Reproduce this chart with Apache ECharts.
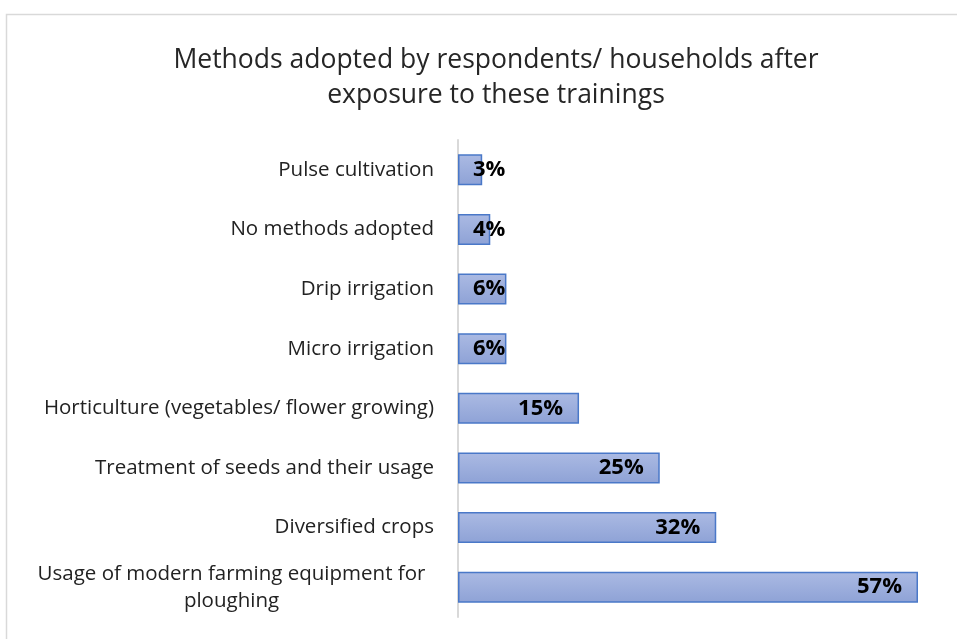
<!DOCTYPE html>
<html>
<head>
<meta charset="utf-8">
<script src="https://cdn.jsdelivr.net/npm/echarts@6/dist/echarts.min.js"></script>
<style>
  html, body { margin: 0; padding: 0; background: #fff; }
  #chart { width: 957px; height: 639px; }
</style>
</head>
<body>
<div id="chart"></div>
<script>
// Share of respondents/households adopting each method (top to bottom)
const categories = [
  'Pulse cultivation',
  'No methods adopted',
  'Drip irrigation',
  'Micro irrigation',
  'Horticulture (vegetables/ flower growing)',
  'Treatment of seeds and their usage',
  'Diversified crops',
  'Usage of modern farming equipment for\nploughing'
];
const percentages = [3, 4, 6, 6, 15, 25, 32, 57];

const FONT = '"Open Sans", "Noto Sans", sans-serif';

// Short bars keep their label anchored near the axis instead of overflowing left
const barData = percentages.map(v => ({
  value: v,
  label: v < 10 ? { position: 'insideLeft', distance: 15 } : { position: 'insideRight', distance: 16 }
}));

const chart = echarts.init(document.getElementById('chart'));
chart.setOption({
  animation: false,
  backgroundColor: '#ffffff',
  graphic: [{
    type: 'rect',
    shape: { x: 6.5, y: 14.5, width: 1000, height: 700 },
    style: { fill: 'none', stroke: '#d9d9d9', lineWidth: 1.5 },
    silent: true
  }],
  title: {
    text: 'Methods adopted by respondents/ households after\nexposure to these trainings',
    left: 491,
    textAlign: 'center',
    top: 38,
    textStyle: {
      fontFamily: FONT,
      fontSize: 26.5,
      fontWeight: 'normal',
      color: '#262626',
      lineHeight: 35
    }
  },
  grid: {
    left: 458,
    right: 39,
    top: 140,
    bottom: 22,
    containLabel: false,
    outerBoundsMode: 'none'
  },
  xAxis: {
    type: 'value',
    min: 0,
    max: 57,
    show: false
  },
  yAxis: {
    type: 'category',
    data: categories,
    inverse: true,
    axisTick: { show: false },
    axisLine: { lineStyle: { color: '#d9d9d9', width: 2 } },
    axisLabel: {
      margin: 24,
      fontFamily: FONT,
      fontSize: 20.5,
      color: '#222222',
      formatter: (val) => val.indexOf('\n') >= 0 ? '{c|' + val + '}' : val,
      rich: {
        c: { width: 405, align: 'center', fontFamily: FONT, fontSize: 20.5, color: '#222222', lineHeight: 27 }
      }
    }
  },
  series: [{
    type: 'bar',
    data: barData,
    barWidth: 31,
    itemStyle: {
      color: new echarts.graphic.LinearGradient(0, 0, 0, 1, [
        { offset: 0, color: '#abbae3' },
        { offset: 1, color: '#8ea2d6' }
      ]),
      borderColor: '#4a78c8',
      borderWidth: 1.5
    },
    label: {
      show: true,
      formatter: '{c}%',
      fontFamily: FONT,
      fontSize: 22,
      fontWeight: 'bold',
      color: '#000000'
    }
  }]
});
</script>
</body>
</html>
